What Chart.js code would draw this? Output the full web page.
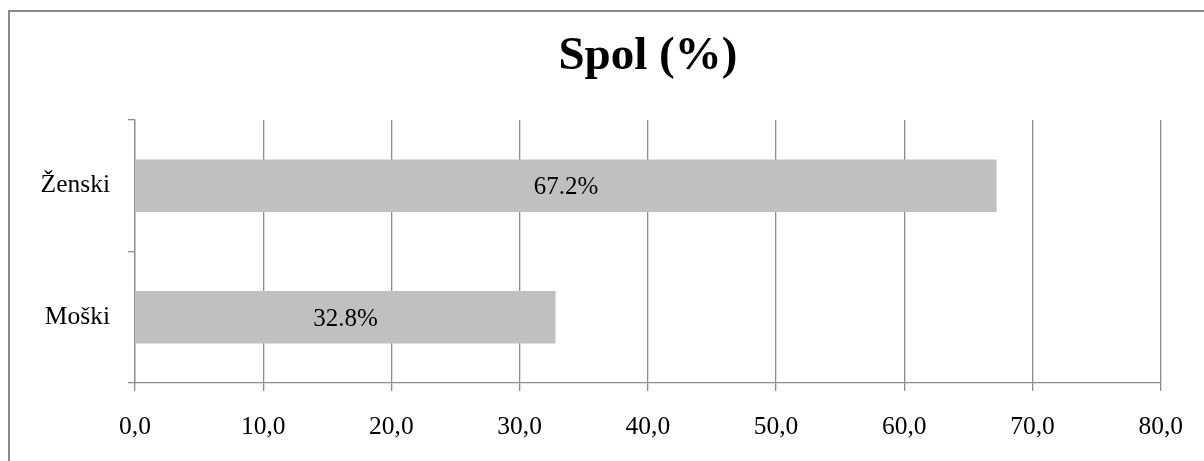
<!DOCTYPE html>
<html>
<head>
<meta charset="utf-8">
<script src="https://cdn.jsdelivr.net/npm/chart.js@4"></script>
<style>
  html, body { margin: 0; padding: 0; background: #fff; overflow: hidden; }
  #wrap { position: relative; width: 1204px; height: 461px; }
  #frame { position: absolute; left: 8px; top: 10px; width: 1300px; height: 600px;
           border-left: 2px solid #8a8a8a; border-top: 2px solid #8a8a8a; }
  canvas { position: absolute; left: 0; top: 0; }
</style>
</head>
<body>
<div id="wrap">
  <div id="frame"></div>
  <canvas id="c" width="1204" height="461"></canvas>
</div>
<script>
// Gender breakdown of respondents
const titleText = 'Spol (%)';
const categories = ['Ženski', 'Moški'];
const shares = [67.2, 32.8];
const axisMin = 0;
const axisMax = 80;
const axisStep = 10;

const serif = '"Liberation Serif", "Times New Roman", serif';
const lineGray = '#8c8c8c';

// Title centred over the plotting area
const titlePlugin = {
  id: 'plotTitle',
  afterDraw(chart) {
    const { ctx, chartArea } = chart;
    ctx.save();
    ctx.font = 'bold 47px ' + serif;
    ctx.fillStyle = '#000';
    ctx.textAlign = 'center';
    ctx.textBaseline = 'alphabetic';
    ctx.fillText(titleText, (chartArea.left + chartArea.right) / 2, 69);
    ctx.restore();
  }
};

// Percentage written in the middle of each bar
const valueLabels = {
  id: 'valueLabels',
  afterDatasetsDraw(chart) {
    const { ctx } = chart;
    const meta = chart.getDatasetMeta(0);
    ctx.save();
    ctx.font = '25px ' + serif;
    ctx.fillStyle = '#000';
    ctx.textAlign = 'center';
    ctx.textBaseline = 'middle';
    meta.data.forEach((bar, i) => {
      const v = chart.data.datasets[0].data[i];
      ctx.fillText(v.toFixed(1) + '%', (bar.x + bar.base) / 2, bar.y + 2);
    });
    ctx.restore();
  }
};

new Chart(document.getElementById('c'), {
  type: 'bar',
  data: {
    labels: categories,
    datasets: [{
      data: shares,
      backgroundColor: '#c0c0c0',
      borderWidth: 0,
      barPercentage: 0.4,
      categoryPercentage: 1.0
    }]
  },
  options: {
    indexAxis: 'y',
    responsive: false,
    animation: false,
    layout: { padding: { top: 120, right: 42, bottom: 0, left: 0 } },
    plugins: {
      legend: { display: false },
      title: { display: false },
      tooltip: { enabled: false }
    },
    scales: {
      x: {
        min: axisMin,
        max: axisMax,
        ticks: {
          stepSize: axisStep,
          color: '#000',
          font: { family: serif, size: 25.5 },
          padding: 21,
          callback: v => v.toFixed(1).replace('.', ',')
        },
        grid: { color: lineGray, lineWidth: 1.3, tickLength: 8 },
        border: { color: lineGray, width: 1.3 },
        afterFit(scale) { scale.height = 78; }
      },
      y: {
        ticks: {
          color: '#000',
          font: { family: serif, size: 25.5 },
          padding: 18
        },
        grid: {
          offset: true,
          drawOnChartArea: false,
          drawTicks: true,
          tickLength: 7,
          color: lineGray,
          lineWidth: 1.3
        },
        border: { color: lineGray, width: 1.3 },
        afterFit(scale) { scale.width = 135; }
      }
    }
  },
  plugins: [titlePlugin, valueLabels]
});
</script>
</body>
</html>
